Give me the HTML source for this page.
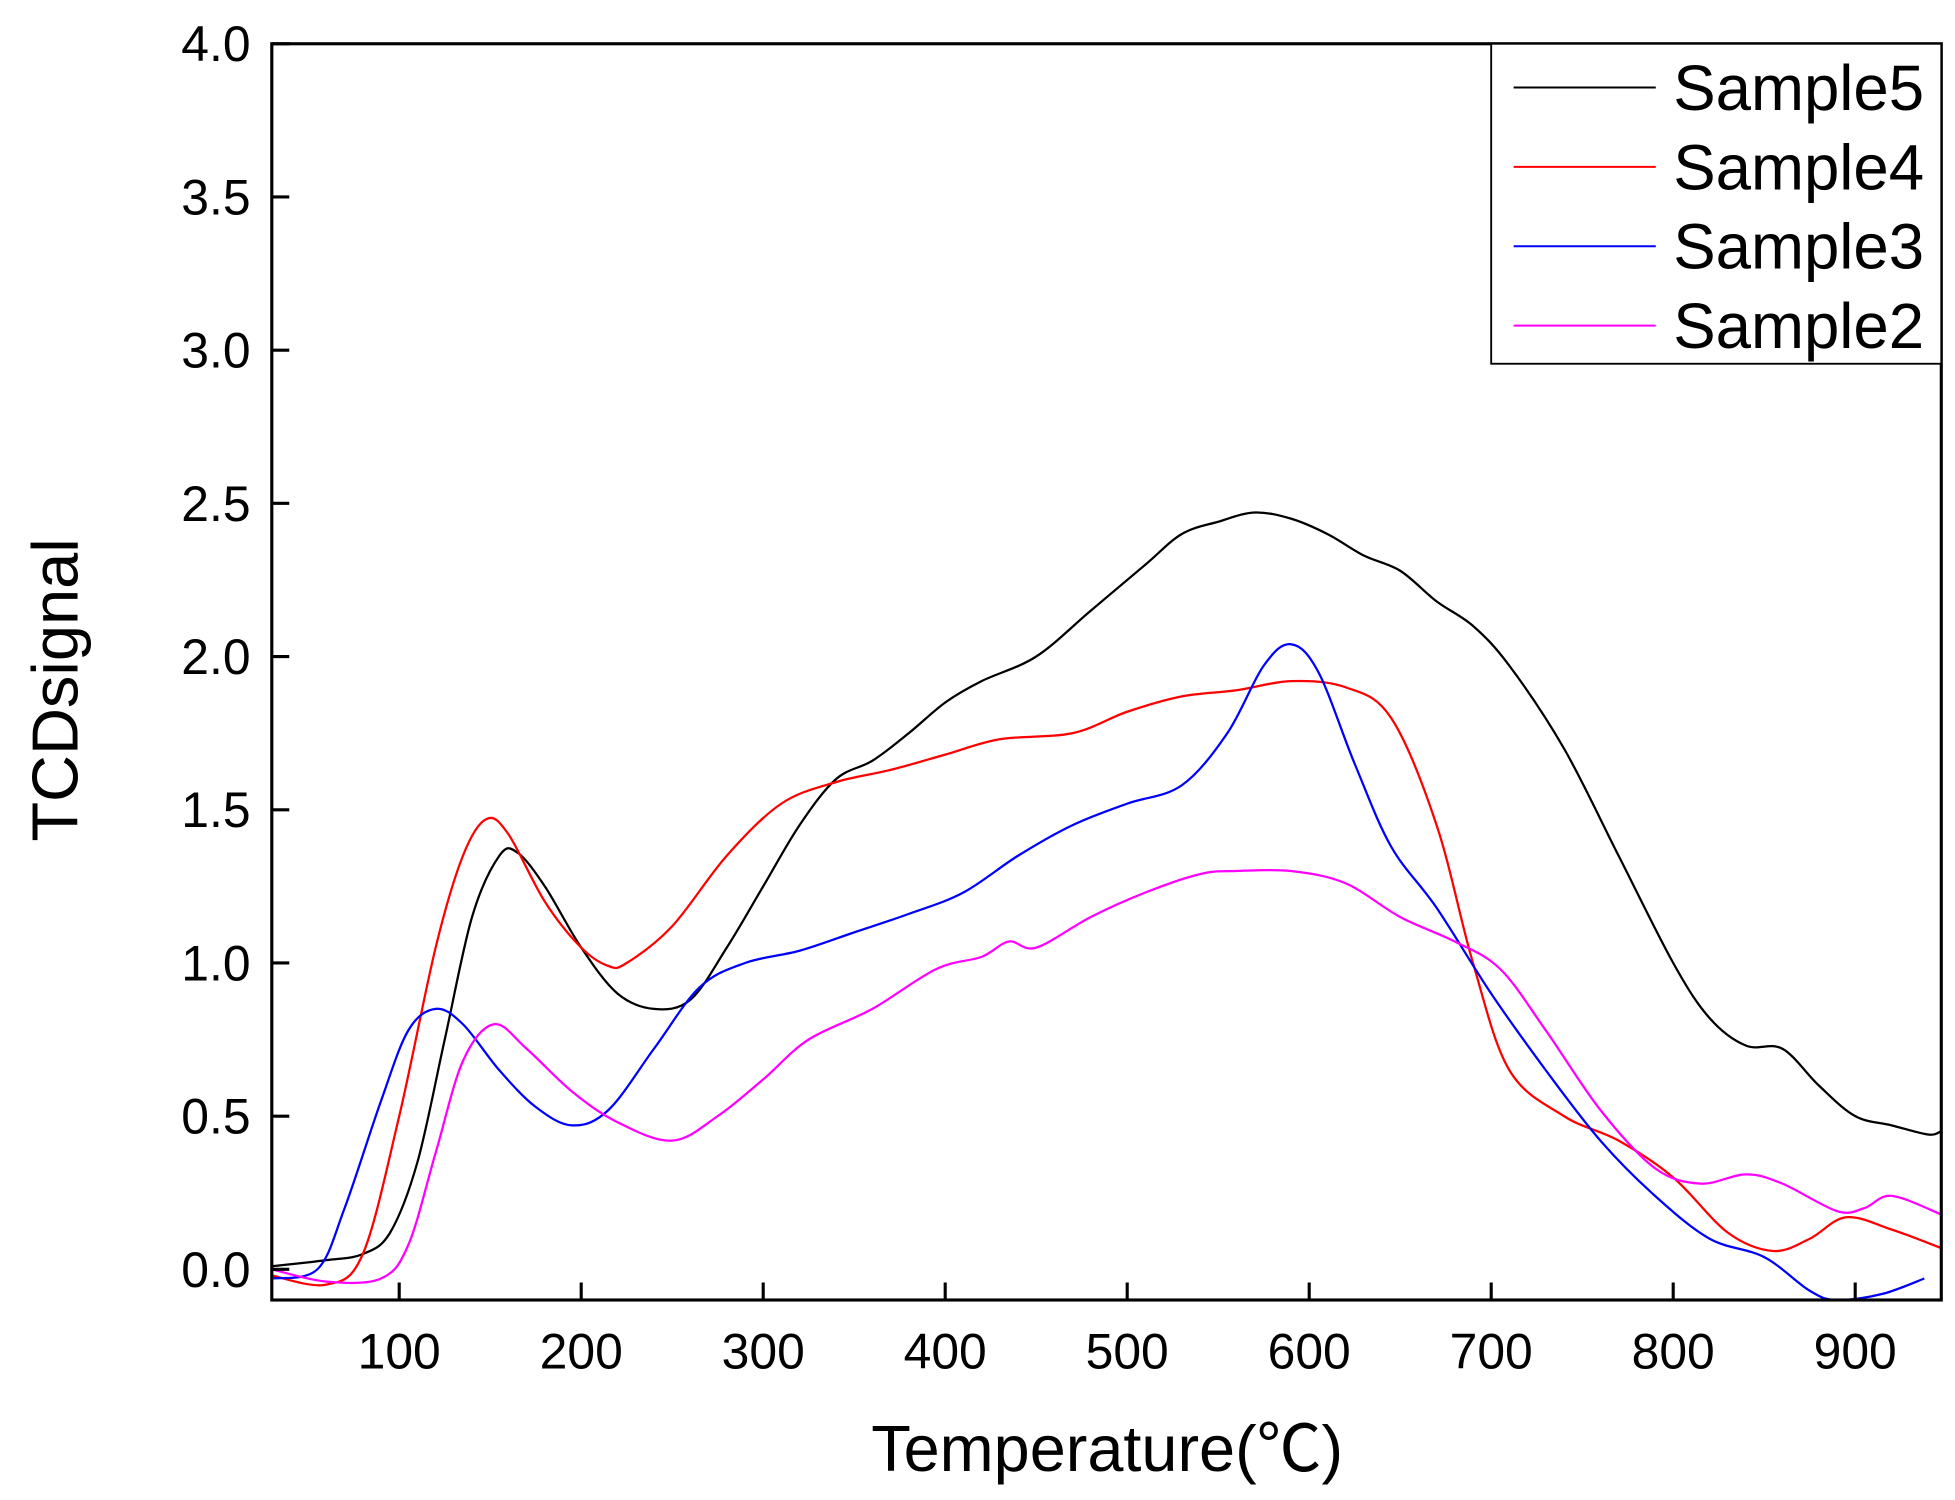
<!DOCTYPE html>
<html><head><meta charset="utf-8"><style>html,body{margin:0;padding:0;background:#fff}svg{display:block}</style></head>
<body>
<svg id="chart" width="1955" height="1500" viewBox="0 0 1568 1200" preserveAspectRatio="none" xmlns="http://www.w3.org/2000/svg" font-family="Liberation Sans, Arial, sans-serif">
<rect width="1568" height="1200" fill="#fff"/>
<g id="plot"></g>
</svg>
<script>
const xTicks = [100,200,300,400,500,600,700,800,900];
const yTicks = [0.0,0.5,1.0,1.5,2.0,2.5,3.0,3.5,4.0];
const seriesNames = ["Sample5","Sample4","Sample3","Sample2"];
const seriesColors = ["#000000","#ff0000","#0000ff","#ff00ff"];
const sample5 = [[30,0.01],[60,0.03],[80,0.05],[95,0.12],[110,0.35],[125,0.75],[140,1.15],[155,1.35],[165,1.36],[180,1.25],[200,1.05],[220,0.9],[240,0.85],[260,0.88],[280,1.05],[300,1.25],[320,1.45],[340,1.6],[360,1.66],[380,1.75],[400,1.85],[420,1.92],[450,2.0],[480,2.15],[510,2.3],[530,2.4],[550,2.44],[570,2.47],[590,2.45],[610,2.4],[630,2.33],[650,2.28],[670,2.18],[690,2.1],[710,1.97],[740,1.7],[770,1.35],[800,1.0],[820,0.82],[840,0.73],[860,0.72],[880,0.6],[900,0.5],[920,0.47],[940,0.44],[947,0.45]];
const sample4 = [[30,-0.02],[60,-0.05],[80,0.05],[100,0.5],[120,1.05],[135,1.35],[148,1.47],[160,1.42],[180,1.2],[200,1.05],[215,0.99],[225,1.0],[250,1.12],[280,1.35],[310,1.52],[340,1.59],[370,1.63],[400,1.68],[430,1.73],[470,1.75],[500,1.82],[530,1.87],[560,1.89],[590,1.92],[620,1.9],[645,1.8],[670,1.45],[690,1.0],[710,0.65],[740,0.5],[770,0.42],[800,0.3],[830,0.12],[855,0.06],[875,0.1],[895,0.17],[920,0.13],[947,0.07]];
const sample3 = [[30,-0.03],[55,0.0],[70,0.2],[90,0.55],[105,0.78],[120,0.85],[135,0.8],[155,0.65],[175,0.53],[195,0.47],[215,0.52],[240,0.72],[265,0.92],[290,1.0],[320,1.04],[350,1.1],[380,1.16],[410,1.23],[440,1.35],[470,1.45],[500,1.52],[530,1.58],[555,1.75],[575,1.97],[590,2.04],[605,1.95],[625,1.65],[645,1.38],[670,1.18],[700,0.9],[730,0.65],[760,0.42],[790,0.24],[820,0.1],[850,0.04],[875,-0.07],[890,-0.1],[915,-0.08],[938,-0.03]];
const sample2 = [[30,0.0],[60,-0.04],[90,-0.03],[105,0.08],[120,0.38],[135,0.68],[152,0.8],[170,0.72],[195,0.58],[220,0.48],[250,0.42],[275,0.5],[300,0.62],[325,0.75],[360,0.85],[395,0.98],[420,1.02],[435,1.07],[450,1.05],[480,1.15],[510,1.23],[540,1.29],[560,1.3],[590,1.3],[620,1.26],[650,1.15],[680,1.07],[705,0.98],[730,0.78],[760,0.52],[790,0.33],[815,0.28],[840,0.31],[860,0.28],[890,0.19],[905,0.2],[920,0.24],[947,0.18]];
const allSeries = [sample5,sample4,sample3,sample2];

const L=218,R=1557,T=35,B=1040;
const X0=30,X1=947.3,Y0=-0.1,Y1=4.0;
const xs=v=>L+(v-X0)/(X1-X0)*(R-L);
const ys=v=>B-(v-Y0)/(Y1-Y0)*(B-T);
const NS="http://www.w3.org/2000/svg";
const g=document.getElementById('plot');
function mk(tag,attrs,parent){const e=document.createElementNS(NS,tag);for(const k in attrs)e.setAttribute(k,attrs[k]);(parent||g).appendChild(e);return e;}
function smoothPath(s){
  const p=s.map(d=>[xs(d[0]),ys(d[1])]);
  let d='M'+p[0][0].toFixed(1)+','+p[0][1].toFixed(1);
  for(let i=0;i<p.length-1;i++){
    const p0=p[Math.max(0,i-1)],p1=p[i],p2=p[i+1],p3=p[Math.min(p.length-1,i+2)];
    const c1=[p1[0]+(p2[0]-p0[0])/6,p1[1]+(p2[1]-p0[1])/6];
    const c2=[p2[0]-(p3[0]-p1[0])/6,p2[1]-(p3[1]-p1[1])/6];
    d+=' C'+c1.map(v=>v.toFixed(1)).join(',')+' '+c2.map(v=>v.toFixed(1)).join(',')+' '+p2.map(v=>v.toFixed(1)).join(',');
  }
  return d;
}

allSeries.forEach((s,i)=>{
  const p=mk('path',{d:smoothPath(s),fill:'none',stroke:seriesColors[i],'stroke-width':1.8});
  
  
});

const frame=mk('rect',{x:L,y:T,width:R-L,height:B-T,fill:'none',stroke:'#000','stroke-width':2.5});



xTicks.forEach(v=>{
  const t=mk('line',{x1:xs(v),x2:xs(v),y1:B,y2:B-14,stroke:'#000','stroke-width':2.5});
  
  
  const l=mk('text',{x:xs(v),y:B+55,'font-size':40,'text-anchor':'middle'});
  l.textContent=v;
  
  
});
yTicks.forEach(v=>{
  const t=mk('line',{x1:L,x2:L+14,y1:ys(v),y2:ys(v),stroke:'#000','stroke-width':2.5});
  
  
  const l=mk('text',{x:201,y:ys(v)+14,'font-size':40,'text-anchor':'end'});
  l.textContent=v.toFixed(1);
  
  
});

const xt=mk('text',{x:888,y:1177,'font-size':52,'text-anchor':'middle'});
xt.textContent='Temperature(℃)';
xt.setAttribute('font-family','Liberation Sans, Noto Sans CJK SC, sans-serif');


const yt=mk('text',{x:0,y:0,'font-size':52,'text-anchor':'middle',transform:'translate(62,552) rotate(-90)'});
yt.textContent='TCDsignal';



const lg=mk('g',{});


mk('rect',{x:1196,y:35,width:361,height:256,fill:'#fff',stroke:'#000','stroke-width':1.5},lg);
seriesNames.forEach((n,i)=>{
  const y=70+i*63.5;
  const ln=mk('line',{x1:1214,x2:1328,y1:y,y2:y,stroke:seriesColors[i],'stroke-width':1.6},lg);
  
  
  const tx=mk('text',{x:1342,y:y+18,'font-size':51},lg);
  tx.textContent=n;
  
  
});
</script>
</body></html>
